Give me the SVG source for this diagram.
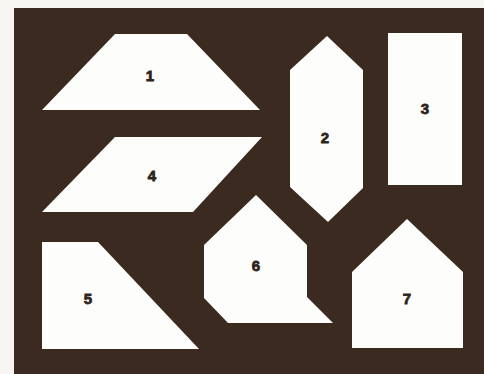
<svg xmlns="http://www.w3.org/2000/svg" width="484" height="374" viewBox="0 0 484 374">
<style>
.piece{fill:#fdfdfb}
.lbl{font-family:"Liberation Sans",Arial,sans-serif;font-weight:bold;font-size:15px;fill:#2e241c;stroke:#2e241c;stroke-width:0.8px;text-anchor:middle}
</style>
<rect x="0" y="0" width="484" height="374" fill="#f6f5f2"/>
<rect x="14" y="8" width="470" height="366" fill="#3a2a1f"/>
<g id="piece1"><polygon class="piece" points="115,34 187,34 260,110 42,110"/><text class="lbl" x="150" y="81">1</text></g>
<g id="piece2"><polygon class="piece" points="327,36 363,70 363,188 328,222 290,187 290,70"/><text class="lbl" x="325" y="143">2</text></g>
<g id="piece3"><rect class="piece" x="388" y="33" width="74" height="152"/><text class="lbl" x="425" y="114">3</text></g>
<g id="piece4"><polygon class="piece" points="115,137 262,137 193,212 42,212"/><text class="lbl" x="152" y="181">4</text></g>
<g id="piece5"><polygon class="piece" points="42,242 98,242 199,349 42,349"/><text class="lbl" x="88" y="304">5</text></g>
<g id="piece6"><polygon class="piece" points="256,195 307,245 307,297 333,323 228,323 204,298 204,245"/><text class="lbl" x="256" y="271">6</text></g>
<g id="piece7"><polygon class="piece" points="407,219 463,272 463,348 352,348 352,272"/><text class="lbl" x="407" y="304">7</text></g>
<g id="connectors"></g>
</svg>
